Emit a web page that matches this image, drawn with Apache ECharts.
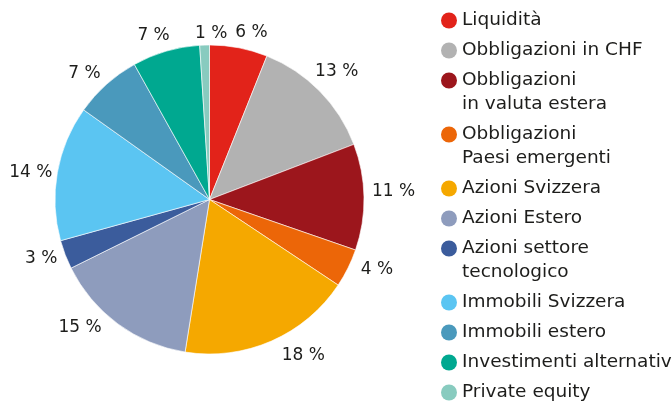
<!DOCTYPE html>
<html>
<head>
<meta charset="utf-8">
<script src="https://cdn.jsdelivr.net/npm/echarts@6/dist/echarts.min.js"></script>
<style>
  html, body { margin: 0; padding: 0; background: #fff; }
  #main { width: 672px; height: 403px; }
</style>
</head>
<body>
<div id="main"></div>
<script>
// categories as shown in the legend (line breaks as in the picture)
var categories = [
  'Liquidità',
  'Obbligazioni in CHF',
  'Obbligazioni\nin valuta estera',
  'Obbligazioni\nPaesi emergenti',
  'Azioni Svizzera',
  'Azioni Estero',
  'Azioni settore\ntecnologico',
  'Immobili Svizzera',
  'Immobili estero',
  'Investimenti alternativi',
  'Private equity'
];
var shares = [6, 13, 11, 4, 18, 15, 3, 14, 7, 7, 1];

var palette = ['#e2231a', '#b2b2b2', '#9c161c', '#ec6608', '#f5a800', '#8e9cbd',
  '#3b5c9c', '#5bc5f2', '#4a99bc', '#00a890', '#88cbbf'];

// small hand nudges for the % labels (px), the source placed them by eye
var labelNudge = [[10, -1], [-1, -2], [1, -5], [8, -9], [24, -3], [-24, -15],
  [-2, -4], [2, 5], [-8, 5], [-8, -1], [7, 0]];

var textColor = '#1d1d1b';
var fontFamily = '"DejaVu Sans", sans-serif';

// circle on top of a taller box, so the dot sits on the first line of two-line names
var tallDot = 'path://M0,8A8,8,0,1,1,16,8A8,8,0,1,1,0,8ZM8,39.9L8,40';

var chartDom = document.getElementById('main');
var myChart = echarts.init(chartDom);

var pieData = categories.map(function (name, i) {
  return { name: name, value: shares[i], itemStyle: { color: palette[i] } };
});

var legendData = categories.map(function (name) {
  return { name: name, icon: name.indexOf('\n') >= 0 ? tallDot : 'circle' };
});

var labelGap = 7;

var option = {
  animation: false,
  legend: {
    orient: 'vertical',
    left: 441,
    top: 8.5,
    height: 600,
    padding: 0,
    itemGap: 6,
    itemWidth: 16,
    itemHeight: 40,
    selectedMode: false,
    itemStyle: { borderWidth: 0 },
    textStyle: {
      fontFamily: fontFamily,
      fontSize: 18.5,
      lineHeight: 24,
      color: textColor
    },
    data: legendData
  },
  series: [
    {
      type: 'pie',
      center: [209.5, 199.5],
      radius: 154.5,
      startAngle: 90,
      clockwise: true,
      avoidLabelOverlap: false,
      itemStyle: { borderColor: '#fff', borderWidth: 0.6 },
      label: {
        show: true,
        position: 'outside',
        formatter: '{c} %',
        fontFamily: fontFamily,
        fontSize: 17,
        lineHeight: 16,
        color: textColor
      },
      labelLine: {
        show: true,
        length: 10,
        length2: 0,
        lineStyle: { opacity: 0, width: 0 }
      },
      labelLayout: function (p) {
        var pts = p.labelLinePoints;
        if (!pts || pts.length < 2) return {};
        var a = pts[0], b = pts[1];
        var dx = b[0] - a[0], dy = b[1] - a[1];
        var len = Math.sqrt(dx * dx + dy * dy) || 1;
        dx /= len; dy /= len;
        var hw = p.labelRect.width / 2, hh = p.labelRect.height / 4;
        var d = labelGap + Math.abs(dx) * hw + Math.abs(dy) * hh;
        var n = labelNudge[p.dataIndex] || [0, 0];
        return {
          x: a[0] + dx * d + n[0],
          y: a[1] + dy * d + n[1],
          align: 'center',
          verticalAlign: 'middle'
        };
      },
      emphasis: { disabled: true },
      data: pieData
    }
  ]
};

option && myChart.setOption(option);
</script>
</body>
</html>
